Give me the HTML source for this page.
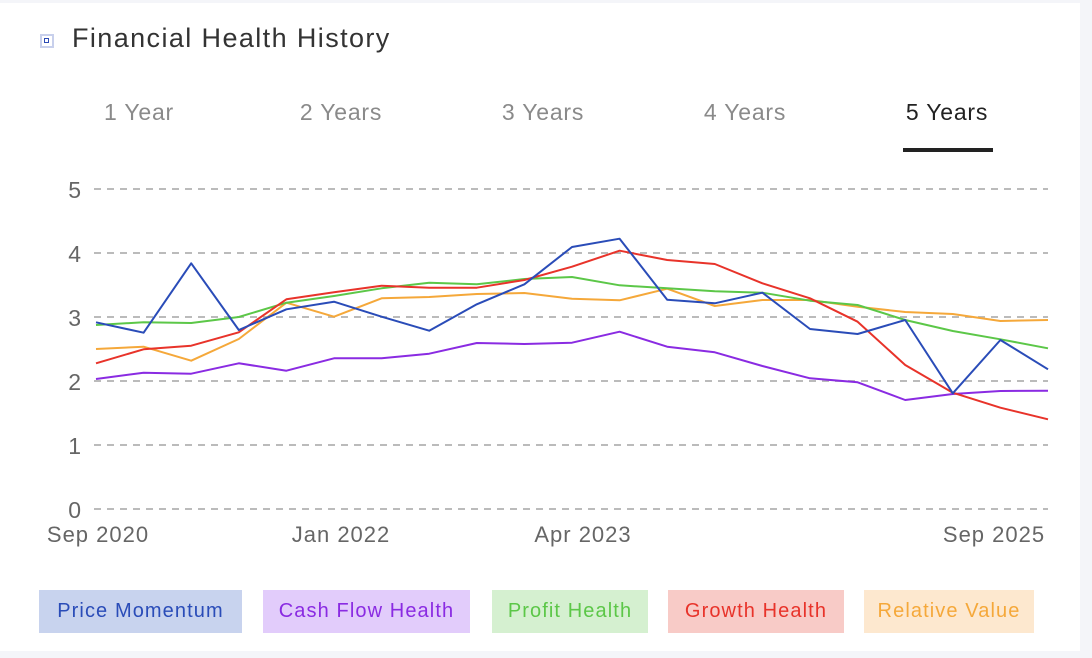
<!DOCTYPE html>
<html><head><meta charset="utf-8"><style>
html,body{margin:0;padding:0;}
body{width:1092px;height:658px;background:#f4f5f9;position:relative;overflow:hidden;font-family:"Liberation Sans",sans-serif;}
.card{position:absolute;left:0;top:3px;width:1080px;height:648px;background:#fff;}
.t{position:absolute;white-space:nowrap;}
.tab{position:absolute;top:99px;font-size:23px;color:#8a8a8a;transform:translateX(-50%);letter-spacing:0.8px;}
.leg{position:absolute;top:590px;height:43px;line-height:43px;font-size:20px;text-align:center;letter-spacing:1.1px;}
</style></head><body>
<div class="card"></div>
<div class="t" style="left:40px;top:34px;width:10px;height:10px;border:2px solid #c8d0ec;background:#fff;"><div style="position:absolute;left:2px;top:2px;width:3px;height:3px;border:1.5px solid #2d4bb5;"></div></div>
<div class="t" style="left:72px;top:23px;font-size:27px;color:#333;letter-spacing:1.4px;">Financial Health History</div>
<div class="tab" style="left:139px;">1 Year</div>
<div class="tab" style="left:341px;">2 Years</div>
<div class="tab" style="left:543px;">3 Years</div>
<div class="tab" style="left:745px;">4 Years</div>
<div class="tab" style="left:947px;color:#222;">5 Years</div>
<div class="t" style="left:903px;top:148px;width:90px;height:4px;background:#222;"></div>
<svg class="t" style="left:0;top:0" width="1092" height="658">
<g stroke="#bbb" stroke-width="2" stroke-dasharray="7,6">
<line x1="94" x2="1048" y1="189" y2="189"/><line x1="94" x2="1048" y1="253" y2="253"/><line x1="94" x2="1048" y1="317" y2="317"/><line x1="94" x2="1048" y1="381" y2="381"/><line x1="94" x2="1048" y1="445" y2="445"/><line x1="94" x2="1048" y1="509" y2="509"/>
</g>
<g font-size="23" fill="#666" text-anchor="end" font-family="Liberation Sans">
<text x="81" y="198">5</text><text x="81" y="262">4</text><text x="81" y="326">3</text><text x="81" y="390">2</text><text x="81" y="454">1</text><text x="81" y="518">0</text>
</g>
<g font-size="22" fill="#666" text-anchor="middle" font-family="Liberation Sans" letter-spacing="1">
<text x="98" y="542">Sep 2020</text><text x="341" y="542">Jan 2022</text><text x="583" y="542">Apr 2023</text><text x="994" y="542">Sep 2025</text>
</g>
<g fill="none" stroke-width="2" stroke-linejoin="round">
<polyline id="p" stroke="#f5a83a" points=""/>
</g>
</svg>
<div class="leg" style="left:39px;width:203px;background:#c8d3ee;color:#2a4cb8;">Price Momentum</div>
<div class="leg" style="left:263px;width:207px;background:#e2ccfb;color:#8a2be2;">Cash Flow Health</div>
<div class="leg" style="left:492px;width:156px;background:#d5f0d0;color:#5cc748;">Profit Health</div>
<div class="leg" style="left:668px;width:176px;background:#f8cbc7;color:#e8332a;">Growth Health</div>
<div class="leg" style="left:864px;width:170px;background:#fde8cf;color:#f5a83a;">Relative Value</div>
<script>
var S=[
["#f5a83a",[349,346.7,360.7,339,302.7,316.7,298.3,297,294,293,298.7,300.3,288.7,306,300,300,306.7,312,314,321,320]],
["#8a2be2",[379,372.7,373.7,363.3,370.7,358.3,358.3,353.7,343,344,342.7,331.7,346.7,352.3,366,378.3,382.3,400,394,391,390.7]],
["#5cc748",[325,322.3,323,317,302.7,296,288.3,282.7,284.3,279,277,285.3,288.3,291.3,292.7,300.7,305,320,331,339.3,348.3]],
["#e8332a",[363.3,349.3,345.7,332.3,299.3,292.3,285.7,287.7,287.7,280,266.7,250.7,260,264,283.3,298.3,321.7,365,392.7,407.7,419.3]],
["#2a4cb8",[322.3,332.7,263.3,330,309.3,301.7,316.7,330.7,304.3,284.3,247,238.7,299.7,303.3,292.7,329,334,320,393.3,340,369.3]]];
var g=document.getElementById('p').parentNode;g.innerHTML='';
S.forEach(function(s){var p=document.createElementNS('http://www.w3.org/2000/svg','polyline');
p.setAttribute('stroke',s[0]);p.setAttribute('points',s[1].map(function(y,i){return (96+i*47.6).toFixed(1)+','+y}).join(' '));g.appendChild(p);});
</script>
</body></html>
